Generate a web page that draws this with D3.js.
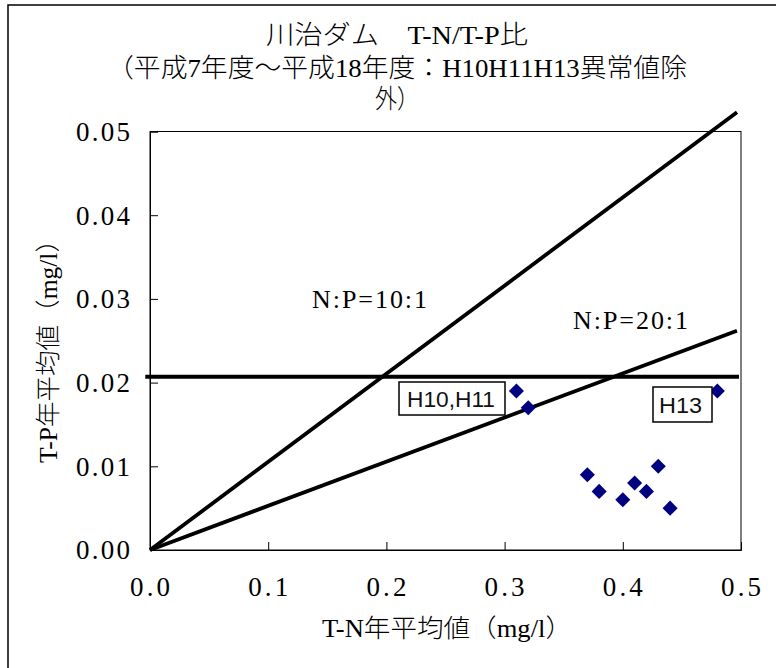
<!DOCTYPE html>
<html>
<head>
<meta charset="utf-8">
<script src="https://cdn.jsdelivr.net/npm/d3@7"></script>
<style>
  body { margin: 0; background: #fff; }
  svg { display: block; }
</style>
</head>
<body>
<svg id="chart" width="776" height="668"></svg>
<script>
// ---- data ----
const tnValues = [0.31, 0.32, 0.48, 0.37, 0.38, 0.40, 0.41, 0.42, 0.43, 0.44];
const tpValues = [0.019, 0.017, 0.019, 0.009, 0.007, 0.006, 0.008, 0.007, 0.010, 0.005];
const xTicks = [0.0, 0.1, 0.2, 0.3, 0.4, 0.5];
const yTicks = [0.00, 0.01, 0.02, 0.03, 0.04, 0.05];
// reference lines (as drawn): start/end points in data units
const ratioLineNames = ["N:P=10:1", "N:P=20:1"];
const ratioLineX = [[0, 0.4966], [0, 0.4966]];
const ratioLineY = [[0, 0.0523], [0, 0.0262]];
const hLineX = [-0.004, 0.4983];
const hLineY = 0.0207;
const titleLines = ["川治ダム　T-N/T-P比", "（平成7年度～平成18年度：H10H11H13異常値除", "外）"];
const xTitle = "T-N年平均値（mg/l）";
const yTitle = "T-P年平均値（mg/l）";
const boxLabels = ["H10,H11", "H13"];

// ---- layout ----
const svg = d3.select("#chart");
const serif = "'Liberation Serif', 'Noto Sans CJK JP', serif";
const sans = "'Liberation Sans', Arial, sans-serif";

const x = d3.scaleLinear().domain([0, 0.5]).range([150, 741]);
const y = d3.scaleLinear().domain([0, 0.05]).range([550, 131.5]);

// outer frame
svg.append("rect").attr("x", 8).attr("y", 5).attr("width", 800).attr("height", 700)
  .attr("fill", "none").attr("stroke", "#000").attr("stroke-width", 1.5);

// plot area border
svg.append("rect").attr("x", x(0)).attr("y", y(0.05))
  .attr("width", x(0.5) - x(0)).attr("height", y(0) - y(0.05))
  .attr("fill", "#fff").attr("stroke", "#000").attr("stroke-width", 1);

// axes (ticks inward)
const yAxis = d3.axisLeft(y).tickValues(yTicks).tickSize(-8).tickFormat("");
const gy = svg.append("g").attr("transform", `translate(${x(0)},0)`).call(yAxis);
const xAxis = d3.axisBottom(x).tickValues(xTicks).tickSize(-8).tickFormat("");
const gx = svg.append("g").attr("transform", `translate(0,${y(0)})`).call(xAxis);
[gx, gy].forEach(g => { g.select(".domain").attr("stroke", "#000"); g.selectAll(".tick line").attr("stroke", "#000"); });

// tick labels
svg.append("g").selectAll("text").data(yTicks).join("text")
  .attr("x", 130).attr("y", d => y(d)).attr("dy", "0.35em")
  .attr("text-anchor", "end").attr("font-family", serif).attr("font-size", 27)
  .attr("textLength", 54).attr("lengthAdjust", "spacing")
  .text(d => d3.format(".2f")(d));
svg.append("g").selectAll("text").data(xTicks).join("text")
  .attr("x", d => x(d)).attr("y", 587).attr("dy", "0.35em")
  .attr("text-anchor", "middle").attr("font-family", serif).attr("font-size", 27)
  .attr("textLength", 40).attr("lengthAdjust", "spacing")
  .text(d => d3.format(".1f")(d));

// reference lines
const line = d3.line().x(d => x(d[0])).y(d => y(d[1]));
ratioLineX.forEach((xs, i) => {
  svg.append("path").datum(xs.map((v, j) => [v, ratioLineY[i][j]]))
    .attr("d", line).attr("fill", "none").attr("stroke", "#000").attr("stroke-width", 3.8);
});
svg.append("path").datum(hLineX.map(v => [v, hLineY]))
  .attr("d", line).attr("fill", "none").attr("stroke", "#000").attr("stroke-width", 3.8);

// ratio labels
const ratioLabelPos = [[312, 308], [573, 329]];
ratioLineNames.forEach((t, i) => {
  svg.append("text").attr("x", ratioLabelPos[i][0]).attr("y", ratioLabelPos[i][1])
    .attr("font-family", serif).attr("font-size", 26)
    .attr("textLength", 115).attr("lengthAdjust", "spacing").text(t);
});

// points
const pts = tnValues.map((v, i) => [v, tpValues[i]]);
svg.append("g").selectAll("path").data(pts).join("path")
  .attr("transform", d => `translate(${x(d[0])},${y(d[1])})`)
  .attr("d", d3.symbol().type(d3.symbolDiamond2).size(145))
  .attr("fill", "#000080");

// box labels
const boxes = [{x: 399, y: 382, w: 106, h: 33, tx: 407, ty: 407, tl: 88},
               {x: 653, y: 387, w: 59, h: 35, tx: 659, ty: 413, tl: 43}];
boxLabels.forEach((t, i) => {
  const b = boxes[i];
  svg.append("rect").attr("x", b.x).attr("y", b.y).attr("width", b.w).attr("height", b.h)
    .attr("fill", "#fff").attr("stroke", "#000").attr("stroke-width", 1.5);
  svg.append("text").attr("x", b.tx).attr("y", b.ty).attr("font-family", sans)
    .attr("font-size", 22).attr("fill", "#111")
    .attr("textLength", b.tl).attr("lengthAdjust", "spacingAndGlyphs").text(t);
});

// titles
const titleY = [44, 77, 108];
const titleLen = [262, 580, 44];
titleLines.forEach((t, i) => {
  svg.append("text").attr("x", 397).attr("y", titleY[i]).attr("text-anchor", "middle")
    .attr("font-family", serif).attr("font-size", 26).attr("font-weight", 300)
    .attr("textLength", titleLen[i]).attr("lengthAdjust", "spacingAndGlyphs").text(t);
});

// axis titles
svg.append("text").attr("x", 447).attr("y", 637).attr("text-anchor", "middle")
  .attr("font-family", serif).attr("font-size", 25).attr("font-weight", 300)
  .attr("textLength", 250).attr("lengthAdjust", "spacingAndGlyphs").text(xTitle);
svg.append("text").attr("transform", "translate(57,345) rotate(-90)").attr("text-anchor", "middle")
  .attr("font-family", serif).attr("font-size", 25).attr("font-weight", 300)
  .attr("textLength", 236).attr("lengthAdjust", "spacingAndGlyphs").text(yTitle);
</script>
</body>
</html>
